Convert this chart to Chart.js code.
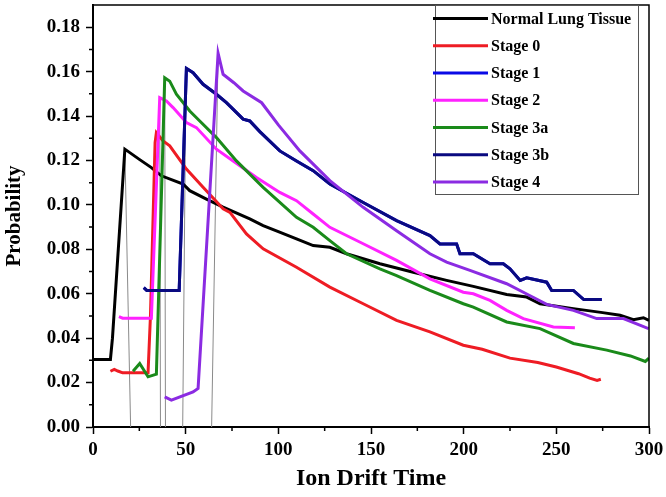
<!DOCTYPE html>
<html><head><meta charset="utf-8">
<script src="https://cdn.jsdelivr.net/npm/chart.js@4.4.0/dist/chart.umd.min.js"></script>
<style>html,body{margin:0;padding:0;background:#fff;}canvas{display:block;}</style>
</head><body>
<canvas id="c" width="666" height="497"></canvas>
<script>
// ---- data ----
const seriesNames = ["Normal Lung Tissue", "Stage 0", "Stage 1", "Stage 2", "Stage 3a", "Stage 3b", "Stage 4"];

const normalX = [0, 9.4, 10.5, 17.2, 25, 31.5, 36.9, 48.6, 52.2, 61.2, 70.2, 84.6, 91.8, 100, 109.8, 118.8, 127.8, 136.8, 154.8, 172.8, 190.8, 205.2, 223.2, 234, 241.2, 259.2, 275, 284.4, 291.6, 297, 300];
const normalY = [0.0304, 0.0304, 0.040, 0.1251, 0.1205, 0.1168, 0.1131, 0.1094, 0.1064, 0.1026, 0.0990, 0.0937, 0.0907, 0.0880, 0.0847, 0.0817, 0.0809, 0.0780, 0.0735, 0.0697, 0.0660, 0.0633, 0.0597, 0.0585, 0.0555, 0.0533, 0.0515, 0.0503, 0.0483, 0.0492, 0.0480];

const stage0X = [9.4, 11.5, 13.4, 16, 29.7, 31, 33.5, 34.2, 37.8, 41.4, 50.4, 59.4, 70.2, 73.9, 82.8, 91.8, 109.8, 127.8, 145.8, 163.8, 181.8, 199.8, 210, 225, 240, 250, 262, 268, 272, 274];
const stage0Y = [0.0251, 0.0259, 0.0252, 0.0244, 0.0244, 0.050, 0.128, 0.1325, 0.1288, 0.1266, 0.1161, 0.1079, 0.0982, 0.0966, 0.0869, 0.0802, 0.0719, 0.0630, 0.0555, 0.0480, 0.0428, 0.0368, 0.0350, 0.0310, 0.0290, 0.0270, 0.0240, 0.0220, 0.0210, 0.0215];

const stage3bX = [27.4, 29, 46.5, 50.4, 54, 59.4, 66.6, 72, 81, 84.6, 90, 100.8, 109.8, 118.8, 127.8, 145.8, 163.8, 181.8, 187.2, 196.2, 198, 205.2, 214.2, 221.4, 225, 230.5, 234, 244.8, 247.5, 259.2, 264.8, 274.5];
const stage3bY = [0.0627, 0.0615, 0.0615, 0.1614, 0.1595, 0.1543, 0.1498, 0.1460, 0.1386, 0.1378, 0.1330, 0.1243, 0.1198, 0.1154, 0.1094, 0.1011, 0.0929, 0.0862, 0.0824, 0.0824, 0.0780, 0.0780, 0.0735, 0.0735, 0.0712, 0.0660, 0.0672, 0.0652, 0.0615, 0.0615, 0.0574, 0.0574];

// Stage 1 is hidden beneath Stage 3b in the reference
const stage1X = stage3bX.slice();
const stage1Y = stage3bY.slice();

const stage2X = [14, 16, 31.5, 36.0, 39.6, 43.2, 50.4, 55.8, 66.6, 75.6, 88.2, 100.8, 109.8, 118.8, 127.8, 145.8, 163.8, 181.8, 199.8, 205.2, 214.2, 223.2, 232.2, 248.4, 260];
const stage2Y = [0.0497, 0.0490, 0.0490, 0.1483, 0.1468, 0.1438, 0.1371, 0.1348, 0.1251, 0.1198, 0.1123, 0.1056, 0.1019, 0.0959, 0.0899, 0.0825, 0.0750, 0.0667, 0.0607, 0.0600, 0.0570, 0.0525, 0.0488, 0.0450, 0.0447];

const stage3aX = [21.6, 25.2, 29.7, 34.2, 38.7, 41.4, 45, 52.2, 57.6, 66.6, 77.4, 91.8, 109.8, 118.8, 127.8, 136.8, 154.8, 163.8, 181.8, 199.8, 205.2, 223.2, 241.2, 259.2, 277.2, 290, 298, 300];
const stage3aY = [0.0251, 0.0286, 0.0226, 0.0238, 0.1572, 0.1557, 0.1498, 0.1423, 0.1378, 0.1303, 0.1198, 0.1079, 0.0944, 0.0899, 0.0839, 0.0780, 0.0712, 0.0682, 0.0615, 0.0555, 0.0540, 0.0473, 0.0443, 0.0376, 0.0346, 0.0320, 0.0295, 0.0310];

const stage4X = [38.7, 42.3, 54, 56.7, 67.5, 70.2, 76, 81, 91, 100, 111.6, 127.8, 145.8, 163.8, 181.8, 190.8, 203.4, 223.2, 235.6, 244.8, 259.2, 271.8, 286.2, 299.8];
const stage4Y = [0.0136, 0.0121, 0.0158, 0.0174, 0.1683, 0.1588, 0.1550, 0.1513, 0.1460, 0.1360, 0.1243, 0.1109, 0.0989, 0.0884, 0.0780, 0.0742, 0.0705, 0.0645, 0.0592, 0.0552, 0.0525, 0.0488, 0.0488, 0.0443];

// thin grey drop lines from peaks to the axis
const dropTopX = [17.2, 36.0, 38.7, 50.2, 67.5];
const dropTopY = [0.1251, 0.1483, 0.1572, 0.1614, 0.1683];
const dropBaseX = [20.3, 36.4, 39.1, 48.4, 64.0];

const xTickStep = 50, xMinorStep = 25, xMin = 0, xMax = 300;
const yTickStep = 0.02, yMinorStep = 0.01, yMin = 0, yMax = 0.19;

// ---- build datasets ----
const colors = ["#000000", "#ee1c24", "#0a0ae6", "#ff22ff", "#1a8a1a", "#0a0a80", "#8b2be2"];
const xs = [normalX, stage0X, stage1X, stage2X, stage3aX, stage3bX, stage4X];
const ys = [normalY, stage0Y, stage1Y, stage2Y, stage3aY, stage3bY, stage4Y];
const pts = (X, Y) => X.map((x, i) => ({x: x, y: Y[i]}));

const datasets = seriesNames.map((name, i) => ({
  label: name,
  data: pts(xs[i], ys[i]),
  borderColor: colors[i],
  backgroundColor: colors[i],
  borderWidth: 3,
  pointRadius: 0,
  tension: 0,
  fill: false,
  inLegend: true,
  order: 10 - i
}));
dropTopX.forEach((tx, i) => {
  datasets.push({
    label: "drop" + i,
    data: [{x: tx, y: dropTopY[i]}, {x: dropBaseX[i], y: 0}],
    borderColor: "#8a8a8a",
    borderWidth: 1,
    pointRadius: 0,
    tension: 0,
    fill: false,
    inLegend: false,
    order: 20
  });
});

const FONT = '"Liberation Serif", "Times New Roman", serif';

const framePlugin = {
  id: 'frame',
  afterDatasetsDraw(chart) {
    const {ctx, chartArea: a, scales} = chart;
    ctx.save();
    ctx.strokeStyle = '#000';
    ctx.lineWidth = 1.5;
    ctx.beginPath();
    ctx.moveTo(a.left, a.top); ctx.lineTo(a.right, a.top); ctx.lineTo(a.right, a.bottom);
    ctx.stroke();
    // minor ticks
    ctx.lineWidth = 1.5;
    ctx.beginPath();
    for (let v = xMin + xMinorStep; v < xMax; v += xTickStep) {
      const px = scales.x.getPixelForValue(v);
      ctx.moveTo(px, a.bottom); ctx.lineTo(px, a.bottom + 4);
    }
    for (let v = yMin + yMinorStep; v < yMax - 0.015; v += yTickStep) {
      const py = scales.y.getPixelForValue(v);
      ctx.moveTo(a.left, py); ctx.lineTo(a.left - 4, py);
    }
    ctx.stroke();
    ctx.restore();
  },
  afterDraw(chart) {
    const {ctx, chartArea: a} = chart;
    const w = 203, h = 189;
    const left = a.right - 214, top = a.top;
    ctx.save();
    ctx.strokeStyle = '#555';
    ctx.lineWidth = 1;
    ctx.strokeRect(left + 0.5, top + 0.5, w, h);
    const items = chart.data.datasets.filter(d => d.inLegend);
    items.forEach((d, i) => {
      const y = top + 13.5 + i * 27.25;
      ctx.strokeStyle = d.borderColor;
      ctx.lineWidth = 3;
      ctx.beginPath(); ctx.moveTo(left - 2, y); ctx.lineTo(left + 53, y); ctx.stroke();
      ctx.fillStyle = '#000';
      ctx.font = 'bold 16px ' + FONT;
      ctx.textBaseline = 'middle';
      ctx.textAlign = 'left';
      ctx.fillText(d.label, left + 56, y + 1);
    });
    ctx.restore();
  }
};

new Chart(document.getElementById('c'), {
  type: 'line',
  data: {datasets: datasets},
  options: {
    responsive: false,
    animation: false,
    devicePixelRatio: 1,
    layout: {padding: {left: 0, right: 17, top: 5, bottom: 0}},
    plugins: {legend: {display: false}, tooltip: {enabled: false}},
    scales: {
      x: {
        type: 'linear', min: xMin, max: xMax,
        grid: {display: true, drawOnChartArea: false, drawTicks: true, tickLength: 7, tickWidth: 1.5, tickColor: '#000'},
        border: {display: true, color: '#000', width: 2},
        ticks: {stepSize: xTickStep, includeBounds: false, padding: 5, color: '#000', maxRotation: 0,
                font: {family: FONT, size: 19, weight: 'bold'}},
        title: {display: true, text: 'Ion Drift Time', color: '#000', padding: {top: 0, bottom: 4},
                font: {family: FONT, size: 24, weight: 'bold'}},
        afterFit(s) { s.height = 70; s.paddingLeft = 0; s.paddingRight = 0; }
      },
      y: {
        type: 'linear', min: yMin, max: yMax,
        grid: {display: true, drawOnChartArea: false, drawTicks: true, tickLength: 7, tickWidth: 1.5, tickColor: '#000'},
        border: {display: true, color: '#000', width: 2},
        ticks: {stepSize: yTickStep, includeBounds: false, padding: 6, color: '#000',
                callback: v => Number(v).toFixed(2),
                font: {family: FONT, size: 19, weight: 'bold'}},
        title: {display: true, text: 'Probability', color: '#000', padding: {top: 2, bottom: 0},
                font: {family: FONT, size: 21, weight: 'bold'}},
        afterFit(s) { s.width = 93; s.paddingTop = 0; s.paddingBottom = 0; }
      }
    }
  },
  plugins: [framePlugin]
});
</script>
</body></html>
